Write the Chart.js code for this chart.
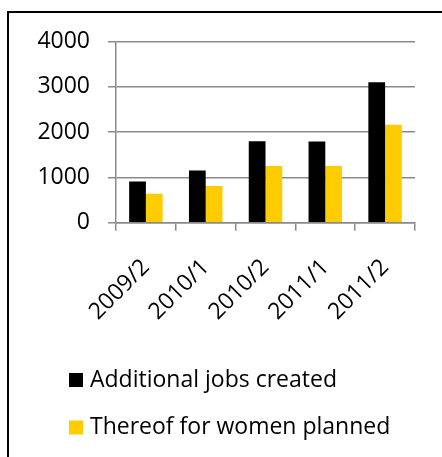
<!DOCTYPE html>
<html>
<head>
<meta charset="utf-8">
<script src="https://cdn.jsdelivr.net/npm/chart.js@4/dist/chart.umd.min.js"></script>
<style>
  html, body { margin: 0; padding: 0; background: #fff; }
  #wrap { position: relative; width: 442px; height: 457px; overflow: hidden; background: #fff; }
  #frame { position: absolute; left: 7px; top: 11px; width: 600px; height: 600px;
           border-left: 2px solid #000; border-top: 2px solid #000; }
  #c { position: absolute; left: 0; top: 0; }
</style>
</head>
<body>
<div id="wrap">
  <div id="frame"></div>
  <canvas id="c" width="442" height="457"></canvas>
</div>
<script>
const categories = ['2009/2', '2010/1', '2010/2', '2011/1', '2011/2'];
const jobsCreated = [910, 1150, 1800, 1790, 3100];
const womenPlanned = [640, 810, 1250, 1250, 2160];
const yTicks = [0, 1000, 2000, 3000, 4000];
const seriesNames = ['Additional jobs created', 'Thereof for women planned'];
const seriesColors = ['#000000', '#FFCC00'];

const FONT = '"Open Sans", Lato, sans-serif';
const gridColor = '#8a8a8a';

const legendPlugin = {
  id: 'stackedLegend',
  afterDraw(chart) {
    const ctx = chart.ctx;
    ctx.save();
    ctx.font = '23px ' + FONT;
    ctx.textBaseline = 'middle';
    ctx.textAlign = 'left';
    chart.data.datasets.forEach((ds, i) => {
      const cy = 380 + i * 47.5;
      ctx.fillStyle = ds.backgroundColor;
      ctx.fillRect(69, cy - 7, 14, 14);
      ctx.fillStyle = '#000';
      ctx.fillText(ds.label, 90, cy);
    });
    ctx.restore();
  }
};

new Chart(document.getElementById('c'), {
  type: 'bar',
  data: {
    labels: categories,
    datasets: [
      { label: seriesNames[0], data: jobsCreated, backgroundColor: seriesColors[0] },
      { label: seriesNames[1], data: womenPlanned, backgroundColor: seriesColors[1] }
    ]
  },
  options: {
    responsive: false,
    animation: false,
    devicePixelRatio: 1,
    layout: { padding: { left: 0, right: 27, top: 41.5, bottom: 0 } },
    datasets: { bar: { categoryPercentage: 0.56, barPercentage: 1.0 } },
    plugins: { legend: { display: false }, tooltip: { enabled: false } },
    scales: {
      x: {
        grid: { display: true, drawOnChartArea: false, drawTicks: true, tickLength: 8,
                color: gridColor, lineWidth: 1.5, offset: true },
        border: { display: true, color: gridColor, width: 1.5 },
        ticks: { minRotation: 45, maxRotation: 45, color: '#000', padding: 23,
                 font: { family: FONT, size: 23 } },
        afterFit(scale) { scale.height = 234.3; }
      },
      y: {
        min: 0, max: 4000,
        afterBuildTicks(scale) { scale.ticks = yTicks.map(v => ({ value: v })); },
        grid: { color: gridColor, lineWidth: 1.5, tickLength: 8, drawTicks: true },
        border: { display: true, color: gridColor, width: 1.5 },
        ticks: { color: '#000', padding: 18, font: { family: FONT, size: 23 },
                 callback: v => String(v) },
        afterFit(scale) { scale.width = 116; }
      }
    }
  },
  plugins: [legendPlugin]
});
</script>
</body>
</html>
